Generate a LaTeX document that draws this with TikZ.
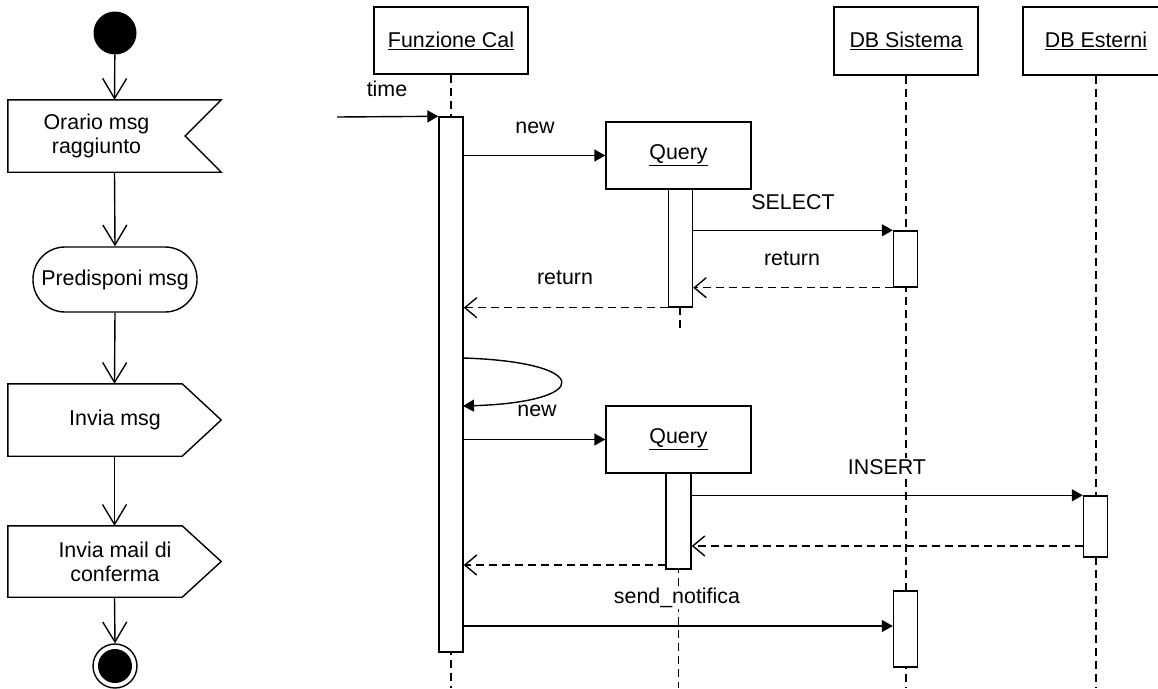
\documentclass[tikz,border=0pt]{standalone}
\usepackage{fontspec}
\setmainfont{Liberation Sans}
\usetikzlibrary{arrows.meta,calc}

\begin{document}
\begin{tikzpicture}[x=1pt,y=-1pt,
  every node/.style={font=\fontsize{21.4}{24}\selectfont},
  ln/.style={line width=1.4pt},
  flow/.style={ln,-{Straight Barb[length=20pt,width=24pt]}},
  call/.style={ln,-{Triangle[length=11pt,width=12pt]}},
  ret/.style={ln,dash pattern=on 8pt off 5pt,-{Straight Barb[length=12pt,width=20pt]}},
  life/.style={ln,dash pattern=on 8pt off 5pt},
  shapebox/.style={draw=none,rectangle,inner sep=0pt,minimum width=213pt},
  obj/.style={draw,ln,rectangle,fill=white,inner sep=0pt,minimum height=67pt},
  bar/.style={draw,ln,rectangle,fill=white,inner sep=0pt,minimum width=24pt},
  lbl/.style={fill=white,inner sep=1pt},
  txt/.style={align=center,inner sep=0pt}]

\useasboundingbox (0,0) rectangle (1158,688);
\clip (0,0) rectangle (1158,688);

% ---------------- activity diagram ----------------
\node[circle,fill=black,minimum size=43pt,inner sep=0pt] (start) at (115,33) {};

% receive signal: Orario msg raggiunto
\node[shapebox,minimum height=72pt] (orario) at (114.5,136) {};
\draw[ln] (orario.north west) -- (orario.north east)
  -- ($(orario.east)+(-36,0)$) -- (orario.south east)
  -- (orario.south west) -- cycle;
\node[txt] (orariot) at (96.5,136) {Orario msg\\raggiunto};

% action: Predisponi msg
\node[draw,ln,rectangle,rounded corners=32pt,minimum width=164pt,minimum height=65pt,inner sep=0pt]
  (predisp) at (115,279.5) {Predisponi msg};

% send signal: Invia msg
\node[shapebox,minimum height=72pt] (invia) at (114.5,420) {};
\draw[ln] (invia.north west) -- ($(invia.north east)+(-39,0)$)
  -- (invia.east) -- ($(invia.south east)+(-39,0)$)
  -- (invia.south west) -- cycle;
\node[txt] (inviat) at (115,420) {Invia msg};

% send signal: Invia mail di conferma
\node[shapebox,minimum height=71pt] (mail) at (114.5,561.5) {};
\draw[ln] (mail.north west) -- ($(mail.north east)+(-39,0)$)
  -- (mail.east) -- ($(mail.south east)+(-39,0)$)
  -- (mail.south west) -- cycle;
\node[txt] (mailt) at (115,561.5) {Invia mail di\\conferma};

% final node
\node[circle,draw,ln,minimum size=44pt,inner sep=0pt] (final) at (115,666) {};
\fill (final.center) circle (17pt);

\draw[flow] (start) -- (orario.north);
\draw[flow] (orario.south) -- (predisp.north);
\draw[flow] (predisp.south) -- (invia.north);
\draw[flow] (invia.south) -- (mail.north);
\draw[flow] (mail.south) -- (final.north);

% ---------------- sequence diagram ----------------
\node[obj,minimum width=154pt] (fc) at (451,40.5) {\underline{Funzione Cal}};
\node[obj,minimum width=144pt,minimum height=68pt] (dbs) at (906,41) {\underline{DB Sistema}};
\node[obj,minimum width=146pt,minimum height=68pt] (dbe) at (1096,41) {\underline{DB Esterni}};
\node[obj,minimum width=145pt] (q1) at (678.5,155.5) {\underline{Query}};
\node[obj,minimum width=145pt] (q2) at (678.5,439.5) {\underline{Query}};

% lifelines
\coordinate (fcend) at (451,688);
\coordinate (dbsend) at (906,688);
\coordinate (dbeend) at (1096,688);
\coordinate (q1end) at (680,328);
\coordinate (q2end) at (678.5,688);
\draw[life] (fc.south) -- (fcend);
\draw[life] (dbs.south) -- (dbsend);
\draw[life] (dbe.south) -- (dbeend);
\draw[life] (q1.south -| q1end) -- (q1end);
\draw[life] (q2.south) -- (q2end);

% activations
\node[bar,minimum height=535pt] (afc) at (451,384.5) {};
\node[bar,minimum height=118pt] (aq1) at (680.5,248) {};
\node[bar,minimum height=56pt] (adbs1) at (905.5,259) {};
\node[bar,minimum height=96pt,minimum width=25pt] (aq2) at (678.5,521) {};
\node[bar,minimum height=61pt] (adbe) at (1095.5,526.5) {};
\node[bar,minimum height=76pt] (adbs2) at (905.5,629) {};

% messages
\coordinate (tsrc) at (337,117);
\draw[call] (tsrc) -- (afc.north west);
\node (tlbl) at (387,89) {time};

\draw[call] (afc.east |- q1.west) -- (q1.west);
\node[lbl] (l1) at (535,128) {new};

\draw[call] (aq1.east |- adbs1.north west) -- (adbs1.north west);
\node[lbl] (l2) at (793,202) {SELECT};

\draw[ret] (adbs1.south west) -- (aq1.east |- adbs1.south west);
\node[lbl] (l3) at (792,259) {return};

\draw[ret] (aq1.south west) -- (afc.east |- aq1.south west);
\node[lbl] (l4) at (565,278) {return};

\coordinate (selfa) at (463,358);
\coordinate (selfb) at (463,406);
\draw[call] (selfa) .. controls (593,362) and (593,402) .. (selfb);
\node[lbl] (l5) at (537,411) {new};

\draw[call] (afc.east |- q2.west) -- (q2.west);

\draw[call] (aq2.east |- adbe.north west) -- (adbe.north west);
\node[lbl] (l6) at (887,467) {INSERT};

\coordinate (r3) at (1083,546);
\draw[ret] (r3) -- (aq2.east |- r3);

\coordinate (r4) at (666,565);
\draw[ret] (r4) -- (afc.east |- r4);

\coordinate (sn) at (463,626);
\draw[call] (sn) -- (adbs2.west |- sn);
\node[lbl] (l7) at (677,598) {send\_notifica};

\end{tikzpicture}
\end{document}
